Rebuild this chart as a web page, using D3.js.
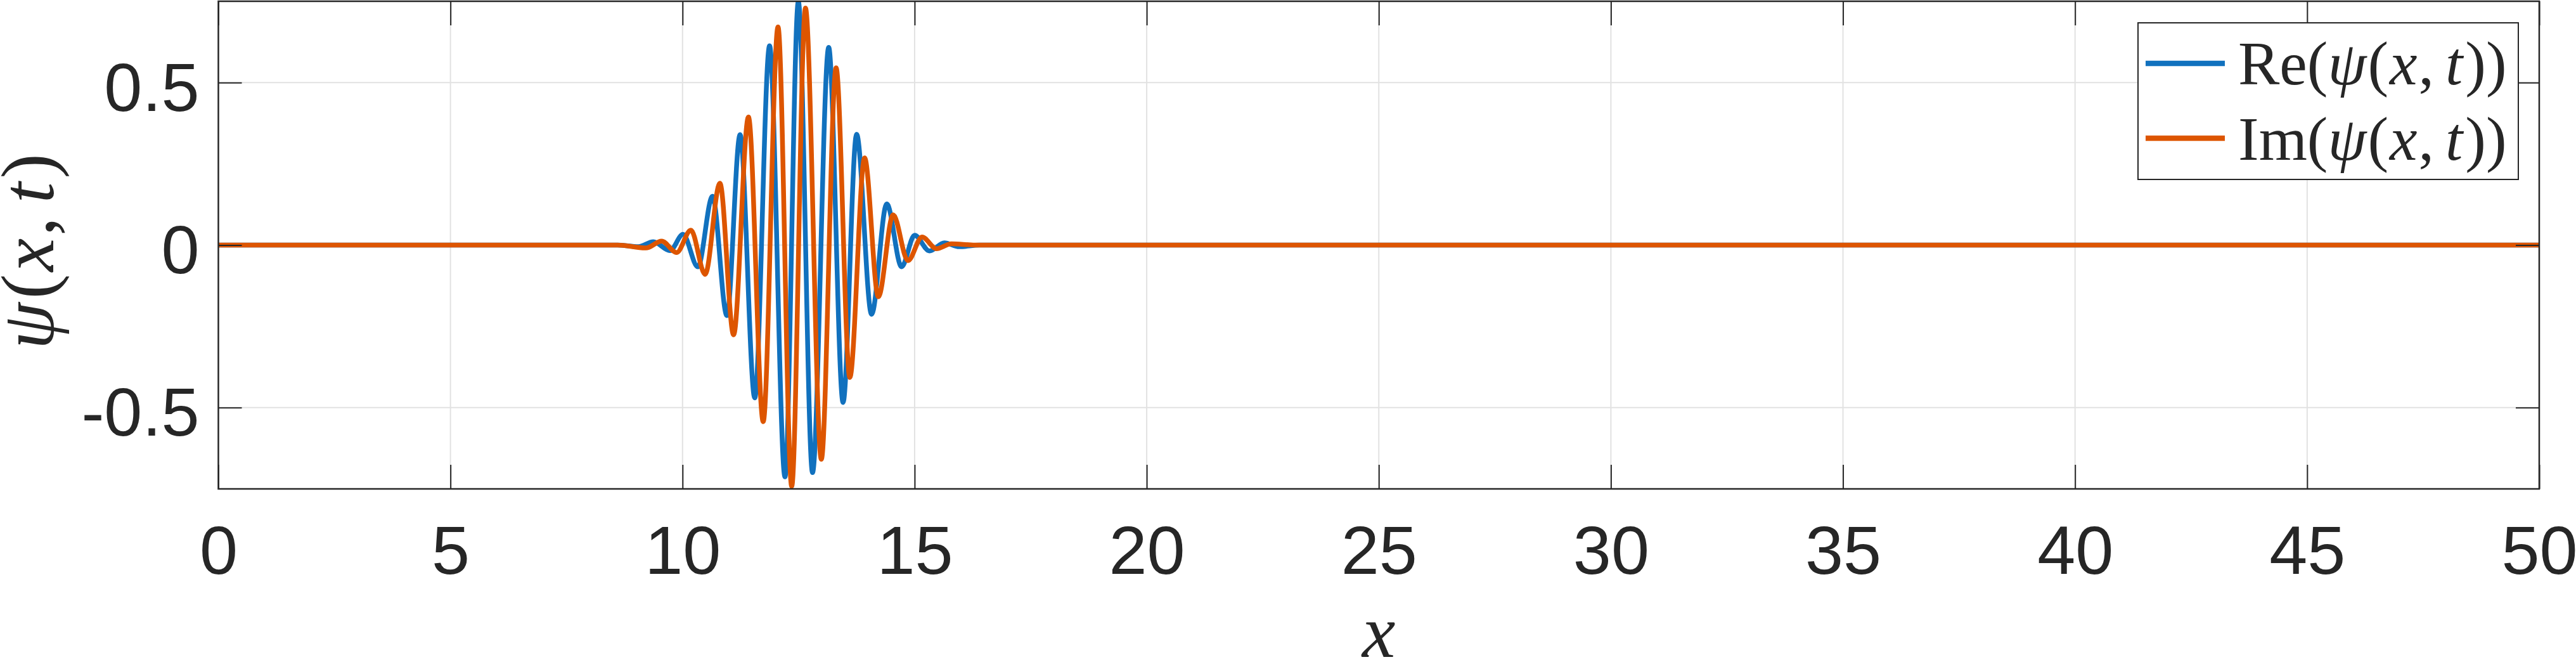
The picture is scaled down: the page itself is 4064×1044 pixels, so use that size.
<!DOCTYPE html>
<html><head><meta charset="utf-8">
<script src="https://cdn.jsdelivr.net/npm/d3@7"></script>
<style>body{margin:0;background:#fff;} svg{display:block;}</style>
</head><body>
<script>
// Re(psi(x,t)) : sample x positions and values
const reX = [0, 8.6, 9.05, 9.37, 9.73, 10.01, 10.33, 10.646, 10.956, 11.24, 11.556, 11.875, 12.207, 12.495, 12.80, 13.149, 13.458, 13.75, 14.072, 14.40, 14.719, 15.0, 15.32, 15.64, 15.96, 16.4, 50];
const reY = [0, 0, -0.005, 0.010, -0.017, 0.033, -0.067, 0.150, -0.217, 0.340, -0.470, 0.613, -0.713, 0.749, -0.700, 0.608, -0.484, 0.341, -0.213, 0.127, -0.067, 0.030, -0.018, 0.007, -0.005, 0, 0];
// Im(psi(x,t))
const imX = [0, 8.6, 9.21, 9.55, 9.873, 10.18, 10.487, 10.805, 11.10, 11.42, 11.738, 12.057, 12.352, 12.648, 12.99, 13.308, 13.604, 13.922, 14.218, 14.537, 14.856, 15.16, 15.47, 15.79, 16.3, 50];
const imY = [0, 0, -0.009, 0.012, -0.023, 0.046, -0.090, 0.190, -0.276, 0.394, -0.543, 0.671, -0.742, 0.729, -0.659, 0.545, -0.407, 0.268, -0.159, 0.093, -0.048, 0.025, -0.011, 0.004, 0, 0];

const xTicks = [0, 5, 10, 15, 20, 25, 30, 35, 40, 45, 50];
const yTicks = [-0.5, 0, 0.5];
const yTickLabels = ["-0.5", "0", "0.5"];

const W = 4064, H = 1044;
const m = {left: 344.5, right: 4006, top: 2, bottom: 771};
const AX = "#262626";
const BLUE = "#1171BE", ORANGE = "#DD5500";
const SANS = "'Liberation Sans', Arial, Helvetica, sans-serif";
const SERIF = "'Liberation Serif', 'Times New Roman', Times, serif";

const x = d3.scaleLinear().domain([0, 50]).range([m.left, m.right]);
const y = d3.scaleLinear().domain([-0.75, 0.75]).range([m.bottom, m.top]);

const svg = d3.select("body").append("svg").attr("width", W).attr("height", H);
svg.append("rect").attr("width", W).attr("height", H).attr("fill", "#fff");

svg.append("defs").append("clipPath").attr("id", "clip")
  .append("rect").attr("x", m.left).attr("y", m.top)
  .attr("width", m.right - m.left).attr("height", m.bottom - m.top);

// grid
const grid = svg.append("g").attr("stroke", "#E2E2E2").attr("stroke-width", 2);
grid.selectAll("line.gx").data(xTicks.slice(1, -1)).join("line")
  .attr("x1", d => x(d)).attr("x2", d => x(d)).attr("y1", m.top).attr("y2", m.bottom);
grid.selectAll("line.gy").data(yTicks).join("line")
  .attr("x1", m.left).attr("x2", m.right).attr("y1", d => y(d)).attr("y2", d => y(d));

// data lines
const line = d3.line().x(d => x(d[0])).y(d => y(d[1])).curve(d3.curveMonotoneX);
const reData = reX.map((v, i) => [v, reY[i]]);
const imData = imX.map((v, i) => [v, imY[i]]);
const plot = svg.append("g").attr("clip-path", "url(#clip)");
plot.append("path").datum(reData).attr("d", line).attr("fill", "none")
  .attr("stroke", BLUE).attr("stroke-width", 7.5).attr("stroke-linejoin", "round");
plot.append("path").datum(imData).attr("d", line).attr("fill", "none")
  .attr("stroke", ORANGE).attr("stroke-width", 7.5).attr("stroke-linejoin", "round");

// axes
function styleAxis(g) {
  g.select(".domain").remove();
  g.selectAll(".tick line").attr("stroke", AX).attr("stroke-width", 2);
  g.selectAll("text").attr("fill", AX).style("font-family", SANS).style("font-size", "108px");
}
const gB = svg.append("g").attr("transform", `translate(0,${m.bottom})`)
  .call(d3.axisBottom(x).tickValues(xTicks).tickSize(-38).tickFormat(d3.format("d")));
styleAxis(gB);
gB.selectAll("text").attr("y", 134).attr("dy", 0);

const gT = svg.append("g").attr("transform", `translate(0,${m.top})`)
  .call(d3.axisTop(x).tickValues(xTicks).tickSize(-38).tickFormat(""));
styleAxis(gT);

const gL = svg.append("g").attr("transform", `translate(${m.left},0)`)
  .call(d3.axisLeft(y).tickValues(yTicks).tickSize(-37).tickFormat((d, i) => yTickLabels[i]));
styleAxis(gL);
gL.selectAll("text").attr("x", -30).attr("dy", 0).attr("y", 44).attr("text-anchor", "end");

const gR = svg.append("g").attr("transform", `translate(${m.right},0)`)
  .call(d3.axisRight(y).tickValues(yTicks).tickSize(-37).tickFormat(""));
styleAxis(gR);

// box
svg.append("rect").attr("x", m.left).attr("y", m.top)
  .attr("width", m.right - m.left).attr("height", m.bottom - m.top)
  .attr("fill", "none").attr("stroke", AX).attr("stroke-width", 2.5);

// math text helper
function mathText(sel, parts) {
  parts.forEach(p => {
    sel.append("tspan").text(p[0]).style("font-style", p[1] ? "italic" : "normal")
      .attr("dx", p[2] || 0);
  });
}

// x label
const xl = svg.append("text").attr("x", (m.left + m.right) / 2).attr("y", 1036)
  .attr("text-anchor", "middle").attr("fill", AX)
  .style("font-family", SERIF).style("font-size", "118px");
mathText(xl, [["x", true]]);

// y label
const yl = svg.append("text").attr("transform", `translate(84,${(m.top + m.bottom) / 2 + 10}) rotate(-90)`)
  .attr("text-anchor", "middle").attr("fill", AX)
  .style("font-family", SERIF).style("font-size", "118px");
mathText(yl, [["ψ", true], ["(", false, 6], ["x", true, 4], [",", false, 4], ["t", true, 22], [")", false, 6]]);

// legend
const lg = svg.append("g");
lg.append("rect").attr("x", 3373).attr("y", 36).attr("width", 600).attr("height", 247)
  .attr("fill", "#fff").attr("stroke", AX).attr("stroke-width", 2);
const legendNames = [["Re", BLUE], ["Im", ORANGE]];
legendNames.forEach((d, i) => {
  const cy = 100 + i * 118;
  lg.append("line").attr("x1", 3385).attr("x2", 3510).attr("y1", cy).attr("y2", cy)
    .attr("stroke", d[1]).attr("stroke-width", 8.5);
  const t = lg.append("text").attr("x", 3531).attr("y", 133 + i * 118.5).attr("fill", AX)
    .style("font-family", SERIF).style("font-size", "98px");
  mathText(t, [[d[0] + "(", false], ["ψ", true], ["(", false, 2], ["x", true, 2], [",", false, 2], ["t", true, 18], ["))", false, 4]]);
});
</script>
</body></html>
